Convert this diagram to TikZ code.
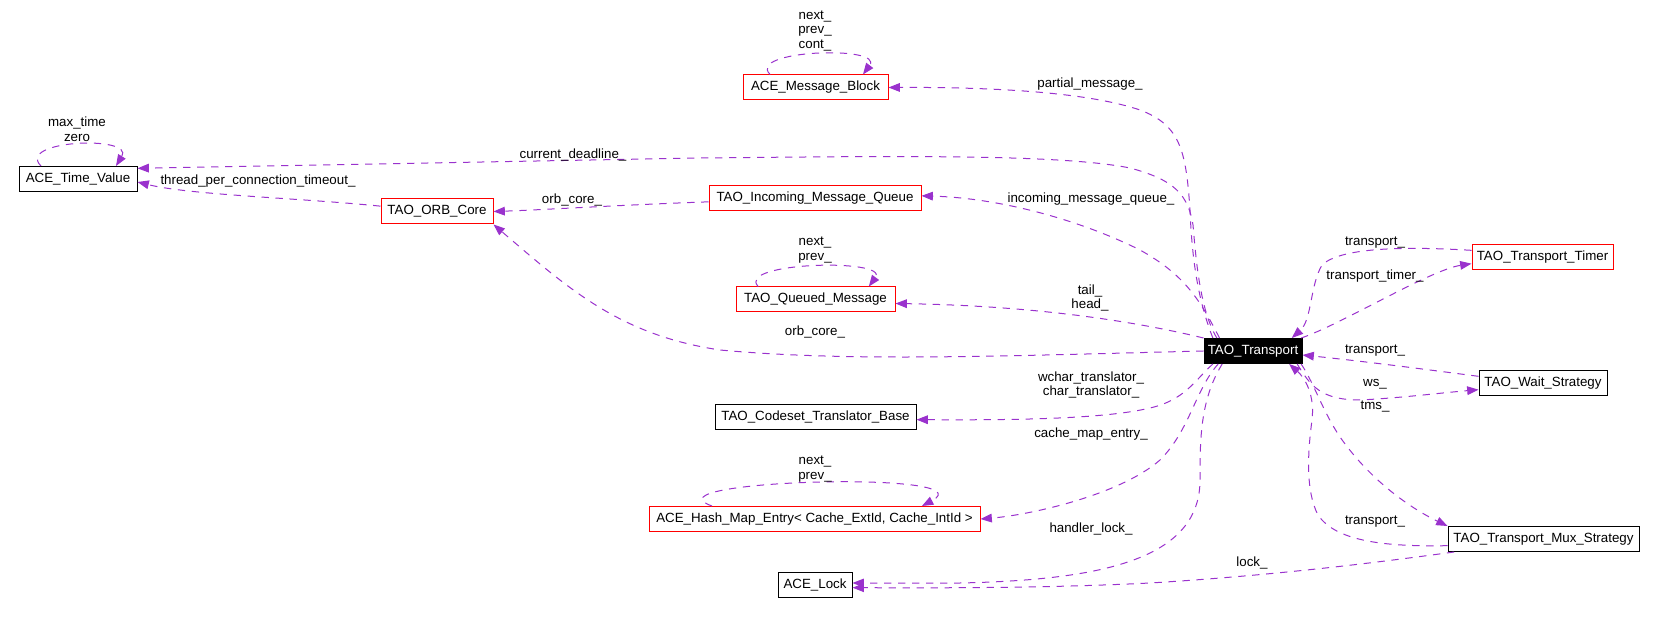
\documentclass[tikz,border=0pt]{standalone}
\usepackage{fontspec}
\setmainfont{Liberation Sans}
\usetikzlibrary{arrows.meta}
\definecolor{orchid}{HTML}{9A32CD}

\begin{document}
\begin{tikzpicture}[x=0.75pt, y=-0.75pt,
    font=\fontsize{10}{11}\selectfont,
    cls/.style={draw=black, line width=0.75pt, minimum height=18.75pt, inner sep=2pt},
    redcls/.style={cls, draw=red},
    rel/.style={draw=orchid, line width=0.75pt, dash pattern=on 5.5pt off 5pt,
      -{Triangle[length=8.5pt, width=6.5pt, fill=orchid]}},
    lbl/.style={inner sep=0pt, align=center}]
    \useasboundingbox (0,0) rectangle (1656,634);

    % Classes
    \node[cls, minimum width=88.5pt] (tv) at (78,179) {ACE\_Time\_Value};
    \node[redcls, minimum width=84pt] (orb) at (437,211.5) {TAO\_ORB\_Core};
    \node[redcls, minimum width=108.75pt] (amb) at (815.5,87.5) {ACE\_Message\_Block};
    \node[redcls, minimum width=159pt] (imq) at (815,198.5) {TAO\_Incoming\_Message\_Queue};
    \node[redcls, minimum width=119.25pt] (qm) at (815.5,299.5) {TAO\_Queued\_Message};
    \node[cls, minimum width=150.75pt] (ctb) at (815.5,417) {TAO\_Codeset\_Translator\_Base};
    \node[redcls, minimum width=248.25pt] (hme) at (814.5,519) {ACE\_Hash\_Map\_Entry< Cache\_ExtId, Cache\_IntId >};
    \node[cls, minimum width=55.5pt] (lock) at (815,585) {ACE\_Lock};
    \node[cls, fill=black, text=white, minimum width=73.5pt] (tr) at (1253,351) {TAO\_Transport};
    \node[redcls, minimum width=105.75pt] (timer) at (1542.5,257) {TAO\_Transport\_Timer};
    \node[cls, minimum width=96pt] (ws) at (1543,383) {TAO\_Wait\_Strategy};
    \node[cls, minimum width=143.25pt] (mux) at (1543.5,539) {TAO\_Transport\_Mux\_Strategy};

    % Self references
    \draw[rel] ([xshift=-27.75pt]tv.north) .. controls (15,140) and (135,135) .. ([xshift=28.5pt]tv.north);
    \node[lbl] (ltv) at (77,129) {max\_time\\zero};
    \draw[rel] ([xshift=-34pt]amb.north) .. controls (745,50) and (885,45) .. ([xshift=35.6pt]amb.north);
    \node[lbl] (lamb) at (815,31) {next\_\\prev\_\\cont\_};
    \draw[rel] ([xshift=-43pt]qm.north) .. controls (735,262) and (890,258) .. ([xshift=40pt]qm.north);
    \node[lbl] (lqm) at (815,250) {next\_\\prev\_};
    \draw[rel] ([xshift=-76.9pt]hme.north) .. controls (640,480) and (990,470) .. ([xshift=80.6pt]hme.north);
    \node[lbl] (lhme) at (815,469) {next\_\\prev\_};

    % Left side
    \draw[rel] ([yshift=4pt]orb.west) .. controls (300,198) and (190,195) .. ([yshift=-2.25pt]tv.east);
    \node[lbl] (ltimeout) at (258,181) {thread\_per\_connection\_timeout\_};
    \draw[rel] ([yshift=-2.5pt]imq.west) .. controls (620,205) and (540,210) .. (orb.east);
    \node[lbl] (lorb1) at (572,200) {orb\_core\_};

    % Members of TAO_Transport
    \draw[rel] ([xshift=7pt]tr.north west) .. controls (1198,300) and (1192,260) .. (1190,210)
      .. controls (1186,150) and (1180,125) .. (1140,110) .. controls (1090,93) and (1000,87) .. (amb.east);
    \node[lbl] (lpartial) at (1090,84) {partial\_message\_};
    \draw[rel] ([xshift=10pt]tr.north west) .. controls (1200,310) and (1196,260) .. (1193,225)
      .. controls (1188,195) and (1175,180) .. (1130,168) .. controls (1060,154) and (900,156) .. (700,158)
      -- ([yshift=8pt]tv.east);
    \node[lbl] (ldeadline) at (573,155) {current\_deadline\_};
    \draw[rel] ([xshift=12pt]tr.north west) .. controls (1200,300) and (1185,275) .. (1140,250)
      .. controls (1080,220) and (1000,198) .. ([yshift=2pt]imq.east);
    \node[lbl] (limq) at (1091,199) {incoming\_message\_queue\_};
    \draw[rel] (tr.north west) .. controls (1150,325) and (1050,306) .. ([yshift=-3pt]qm.east);
    \node[lbl] (lqueue) at (1090,298) {tail\_\\head\_};
    \draw[rel] (tr.west) .. controls (1000,356) and (850,362) .. (720,350)
      .. controls (620,335) and (570,290) .. (orb.south east);
    \node[lbl] (lorb2) at (815,332) {orb\_core\_};
    \draw[rel] ([xshift=7pt]tr.south west) .. controls (1195,380) and (1185,400) .. (1150,408)
      .. controls (1100,420) and (1000,420) .. ([yshift=-2pt]ctb.east);
    \node[lbl] (ltrans) at (1091,385) {wchar\_translator\_\\char\_translator\_};
    \draw[rel] ([xshift=11pt]tr.south west) .. controls (1195,390) and (1190,430) .. (1160,460)
      .. controls (1120,495) and (1030,515) .. (hme.east);
    \node[lbl] (lcache) at (1091,434) {cache\_map\_entry\_};
    \draw[rel] ([xshift=14pt]tr.south west) .. controls (1200,400) and (1200,440) .. (1200,480)
      .. controls (1200,560) and (1100,580) .. (960,583) -- ([yshift=1.5pt]lock.east);
    \node[lbl] (lhandler) at (1091,529) {handler\_lock\_};

    % Right side
    \draw[rel] ([yshift=5pt]timer.west) .. controls (1400,246) and (1340,248) .. (1322,265)
      .. controls (1310,285) and (1312,320) .. ([xshift=-8pt]tr.north east);
    \node[lbl] (ltimer1) at (1375,243) {transport\_};
    \draw[rel] ([xshift=-1pt]tr.north east) .. controls (1340,325) and (1430,270) .. ([yshift=-5pt]timer.west);
    \node[lbl] (ltimer2) at (1375,276) {transport\_timer\_};
    \draw[rel] ([yshift=5pt]ws.west) .. controls (1430,370) and (1370,362) .. ([yshift=-3pt]tr.east);
    \node[lbl] (lws1) at (1375,351) {transport\_};
    \draw[rel] ([xshift=-4pt]tr.south east) .. controls (1310,385) and (1320,400) .. (1360,400)
      .. controls (1400,398) and (1440,393) .. ([yshift=-5pt]ws.west);
    \node[lbl] (lws2) at (1375,384) {ws\_};
    \draw[rel] ([xshift=-1pt]tr.south east) .. controls (1315,385) and (1322,410) .. (1340,437)
      .. controls (1370,480) and (1410,508) .. (mux.north west);
    \node[lbl] (ltms) at (1375,407) {tms\_};
    \draw[rel] ([yshift=-5pt]mux.west) .. controls (1380,547) and (1335,540) .. (1318,515)
      .. controls (1305,490) and (1308,450) .. (1312,420) .. controls (1315,395) and (1305,378) .. ([xshift=-10pt]tr.south east);
    \node[lbl] (lmux) at (1375,522) {transport\_};
    \draw[rel] ([xshift=5pt]mux.south west) .. controls (1380,562) and (1280,575) .. (1150,583)
      .. controls (1050,588) and (950,588) .. ([yshift=-2pt]lock.east);
    \node[lbl] (llock) at (1252,563) {lock\_};
  \end{tikzpicture}
\end{document}
